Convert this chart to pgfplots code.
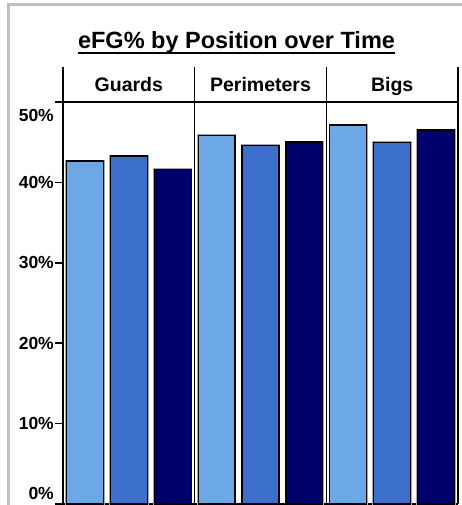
\documentclass[border=0pt]{standalone}
\usepackage{fontspec}
\setmainfont{Liberation Sans}
\usepackage{pgfplots}
\pgfplotsset{compat=1.18}
\definecolor{cLight}{RGB}{109,168,230}
\definecolor{cMid}{RGB}{60,111,204}
\definecolor{cDark}{RGB}{0,0,108}
\definecolor{frameGray}{RGB}{192,192,192}
\begin{document}
\begin{tikzpicture}[x=1pt,y=1pt]
\useasboundingbox (0,0) rectangle (461,505);
\draw[frameGray, line width=3pt] (8.5,-5) -- (8.5,500) -- (470,500);
\node[font=\bfseries\fontsize{23.5}{28}\selectfont, inner sep=0pt, anchor=base] (title) at (236.5,456) {eFG\% by Position over Time};
\draw[line width=2pt] ([yshift=-4pt]title.base west) -- ([yshift=-4pt]title.base east);
\begin{axis}[
  at={(63pt,1pt)}, anchor=south west,
  scale only axis, width=395pt, height=437pt,
  xmin=0, xmax=9, ymin=0, ymax=54.35,
  axis lines*=left,
  axis line style={black, line width=1.6pt},
  xtick=\empty,
  ytick={0,10,20,30,40,50},
  yticklabels={\raisebox{4.7pt}[0pt][0pt]{0\%},10\%,20\%,30\%,40\%,\raisebox{-19.3pt}[0pt][0pt]{50\%}},
  tick align=outside, major tick length=8pt,
  ytick style={black, line width=1.6pt},
  yticklabel style={font=\bfseries\fontsize{17.5}{20}\selectfont, inner sep=1pt},
  ybar, bar width=0.84, bar shift=0pt,
  every axis plot/.append style={draw=black, line width=1.2pt, preaction={draw=black!35, line width=2.6pt}},
  clip=false,
]
\addplot[fill=cLight] coordinates {(0.5,42.66) (3.5,45.86) (6.5,47.14)};
\addplot[fill=cMid] coordinates {(1.5,43.28) (4.5,44.56) (7.5,44.99)};
\addplot[fill=cDark] coordinates {(2.5,41.63) (5.5,45.02) (8.5,46.52)};
\coordinate (a0) at (axis cs:3,0);
\coordinate (a1) at (axis cs:3,54.35);
\coordinate (b0) at (axis cs:6,0);
\coordinate (b1) at (axis cs:6,54.35);
\coordinate (c0) at (axis cs:9,0);
\coordinate (c1) at (axis cs:9,54.35);
\coordinate (h0) at (axis cs:0,50);
\coordinate (h1) at (axis cs:9,50);
\node[font=\bfseries\fontsize{19.5}{23}\selectfont, anchor=base, inner sep=0pt] at (axis cs:1.5,51.28) {Guards};
\node[font=\bfseries\fontsize{19.5}{23}\selectfont, anchor=base, inner sep=0pt] at (axis cs:4.5,51.28) {Perimeters};
\node[font=\bfseries\fontsize{19.5}{23}\selectfont, anchor=base, inner sep=0pt] at (axis cs:7.5,51.28) {Bigs};
\end{axis}
\draw[line width=1.6pt] (a0) -- (a1) (b0) -- (b1) (c0) -- (c1) (h0) -- (h1);
\end{tikzpicture}
\end{document}
